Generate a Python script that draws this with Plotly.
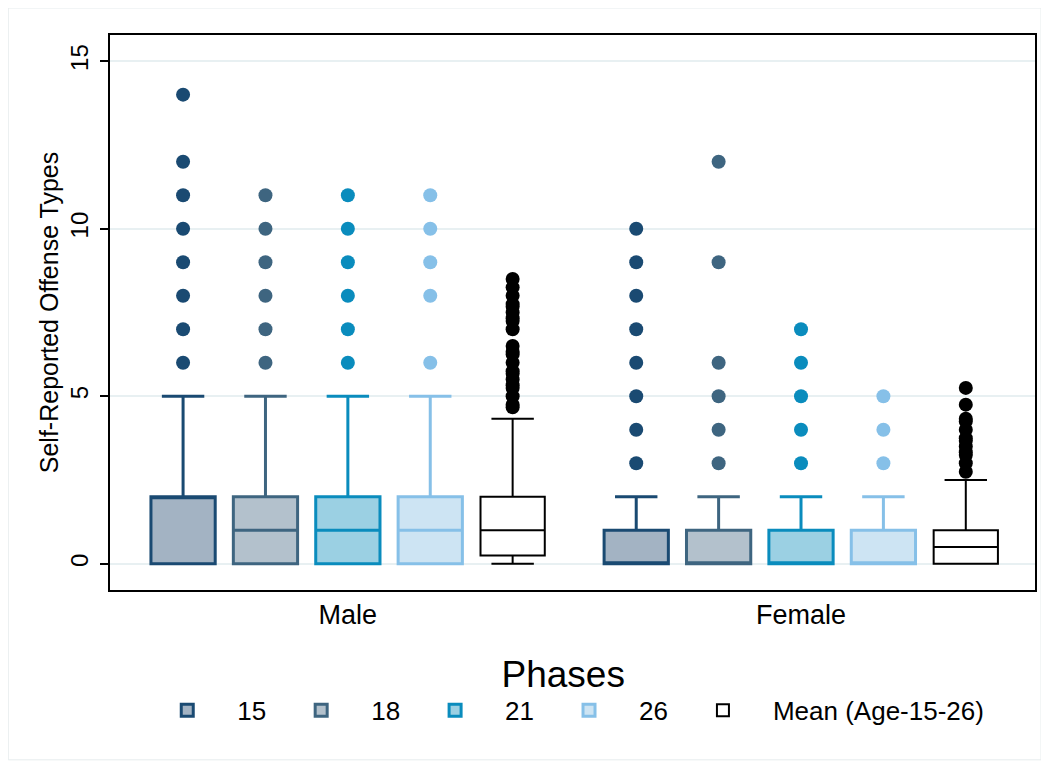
import plotly.graph_objects as go

# ---- data ----
groups = ["Male", "Female"]
phases = ["15", "18", "21", "26", "Mean (Age-15-26)"]
male_pos = [1, 2, 3, 4, 5]
female_pos = [6.5, 7.5, 8.5, 9.5, 10.5]
group_centers = [3, 8.5]

male_q1 = [0, 0, 0, 0, 0.25]
male_median = [2, 1, 1, 1, 1]
male_q3 = [2, 2, 2, 2, 2]
male_low = [0, 0, 0, 0, 0]
male_high = [5, 5, 5, 5, 4.33]
male_out = [
    [6, 7, 8, 9, 10, 11, 12, 14],
    [6, 7, 8, 9, 10, 11],
    [6, 7, 8, 9, 10, 11],
    [6, 8, 9, 10, 11],
    [4.67, 4.75, 5, 5.25, 5.33, 5.5, 5.67, 5.75, 6, 6.25, 6.33, 6.5,
     7, 7.25, 7.33, 7.5, 7.67, 7.75, 8, 8.25, 8.5],
]

female_q1 = [0, 0, 0, 0, 0]
female_median = [0, 0, 0, 0, 0.5]
female_q3 = [1, 1, 1, 1, 1]
female_low = [0, 0, 0, 0, 0]
female_high = [2, 2, 2, 2, 2.5]
female_out = [
    [3, 4, 5, 6, 7, 8, 9, 10],
    [3, 4, 5, 6, 9, 12],
    [3, 4, 5, 6, 7],
    [3, 4, 5],
    [2.75, 3, 3.25, 3.33, 3.5, 3.67, 3.75, 4, 4.25, 4.33, 4.75, 5.25],
]

# ---- styles ----
line_colors = ["#1a4a72", "#3e6580", "#0a8cbd", "#86c0e8", "#000000"]
fill_colors = ["#a3b3c3", "#b3c1cc", "#9bd0e3", "#cde4f3", "#ffffff"]
line_widths = [3, 3, 3, 3, 2]
FONT = "Liberation Sans, Arial, Helvetica, sans-serif"

fig = go.Figure()

for i, name in enumerate(phases):
    fig.add_trace(go.Box(
        x=[male_pos[i], female_pos[i]],
        q1=[male_q1[i], female_q1[i]],
        median=[male_median[i], female_median[i]],
        q3=[male_q3[i], female_q3[i]],
        lowerfence=[male_low[i], female_low[i]],
        upperfence=[male_high[i], female_high[i]],
        name=name,
        legendgroup=name,
        boxpoints=False,
        width=0.78,
        whiskerwidth=0.66,
        fillcolor=fill_colors[i],
        line=dict(color=line_colors[i], width=line_widths[i]),
        hoverinfo="skip",
    ))

for i, name in enumerate(phases):
    xs = [male_pos[i]] * len(male_out[i]) + [female_pos[i]] * len(female_out[i])
    ys = male_out[i] + female_out[i]
    fig.add_trace(go.Scatter(
        x=xs, y=ys, mode="markers",
        marker=dict(color=line_colors[i], size=14, line=dict(width=0)),
        showlegend=False, legendgroup=name, hoverinfo="skip",
    ))

fig.update_layout(
    width=1049, height=768,
    margin=dict(l=102, r=22, t=27, b=186),
    paper_bgcolor="white", plot_bgcolor="white",
    font=dict(family=FONT, size=26, color="black"),
    showlegend=True,
    legend=dict(
        orientation="h", x=0.49, xanchor="center", y=-0.088, yanchor="top",
        title=dict(text="Phases", side="top center", font=dict(size=37)),
        font=dict(size=26),
        itemwidth=90,
        traceorder="normal",
    ),
    shapes=[dict(type="rect", xref="paper", yref="paper",
                 x0=-0.110, x1=1.0065, y0=-0.306, y1=1.0486,
                 line=dict(color="#e6eced", width=1), layer="below")],
)

fig.update_xaxes(
    range=[0.113, 11.34],
    tickvals=group_centers, ticktext=groups,
    ticks="", showgrid=False, zeroline=False,
    showline=True, linecolor="black", linewidth=1.5, mirror=True,
    tickfont=dict(size=27),
)
fig.update_yaxes(
    range=[-0.78, 15.78],
    tickvals=[0, 5, 10, 15],
    tickangle=-90,
    ticks="outside", ticklen=8, tickwidth=1.5, tickcolor="black",
    ticklabelstandoff=3,
    tickfont=dict(size=24),
    showgrid=True, gridcolor="#e8f0f2", gridwidth=2,
    zeroline=False,
    showline=True, linecolor="black", linewidth=1.5, mirror=True,
    title=dict(text="Self-Reported Offense Types", standoff=0, font=dict(size=25)),
)

fig.write_html("out.html")
